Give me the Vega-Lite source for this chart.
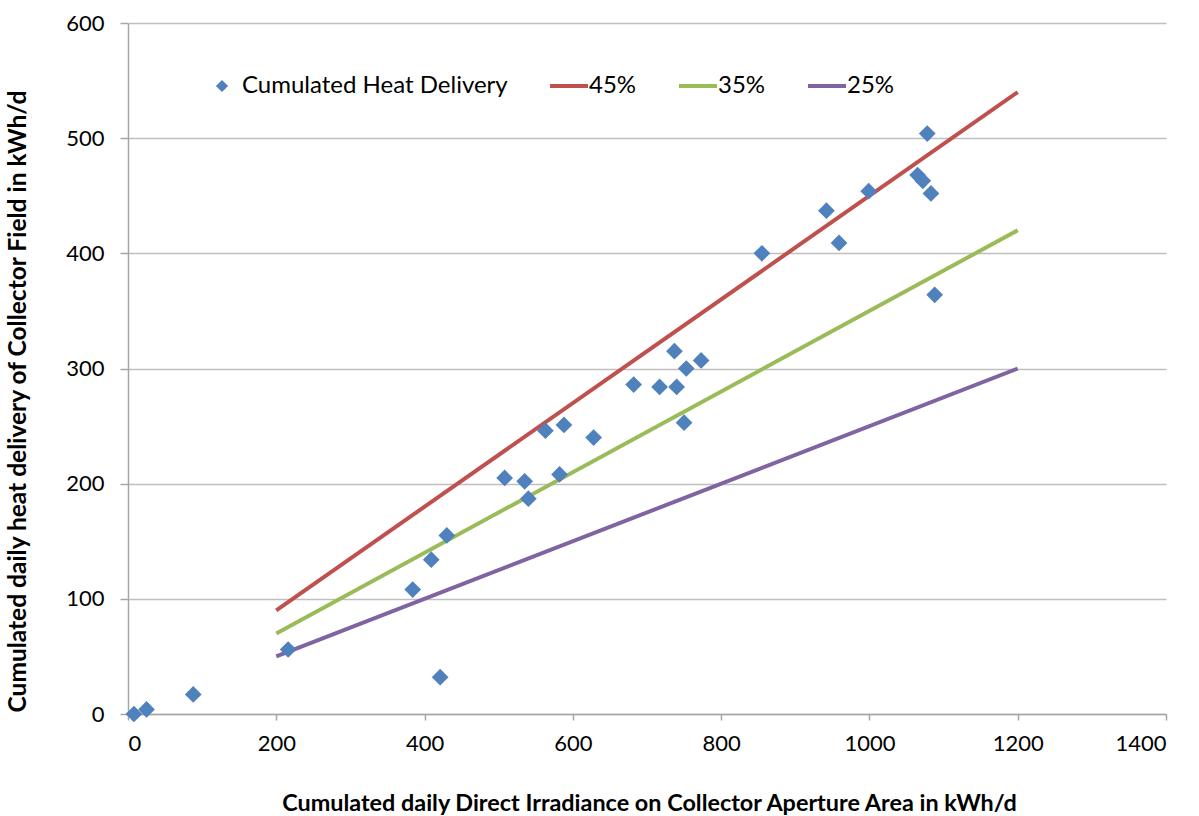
{
  "$schema": "https://vega.github.io/schema/vega-lite/v6.json",
  "width": 1038,
  "height": 691,
  "autosize": {"type": "none"},
  "padding": {"left": 128, "top": 23, "right": 33, "bottom": 102},
  "background": "white",
  "config": {
    "font": "Lato",
    "view": {"stroke": null},
    "axis": {"labelFont": "Lato", "titleFont": "Lato", "labelColor": "#000000", "titleColor": "#000000"}
  },
  "datasets": {
    "points": [
      {"series": "Cumulated Heat Delivery", "irr": 8, "heat": 0},
      {"series": "Cumulated Heat Delivery", "irr": 25, "heat": 4},
      {"series": "Cumulated Heat Delivery", "irr": 88, "heat": 17},
      {"series": "Cumulated Heat Delivery", "irr": 216, "heat": 56},
      {"series": "Cumulated Heat Delivery", "irr": 384, "heat": 108},
      {"series": "Cumulated Heat Delivery", "irr": 409, "heat": 134},
      {"series": "Cumulated Heat Delivery", "irr": 421, "heat": 32},
      {"series": "Cumulated Heat Delivery", "irr": 430, "heat": 155},
      {"series": "Cumulated Heat Delivery", "irr": 508, "heat": 205},
      {"series": "Cumulated Heat Delivery", "irr": 535, "heat": 202},
      {"series": "Cumulated Heat Delivery", "irr": 540, "heat": 187},
      {"series": "Cumulated Heat Delivery", "irr": 563, "heat": 246},
      {"series": "Cumulated Heat Delivery", "irr": 582, "heat": 208},
      {"series": "Cumulated Heat Delivery", "irr": 588, "heat": 251},
      {"series": "Cumulated Heat Delivery", "irr": 628, "heat": 240},
      {"series": "Cumulated Heat Delivery", "irr": 682, "heat": 286},
      {"series": "Cumulated Heat Delivery", "irr": 717, "heat": 284},
      {"series": "Cumulated Heat Delivery", "irr": 737, "heat": 315},
      {"series": "Cumulated Heat Delivery", "irr": 740, "heat": 284},
      {"series": "Cumulated Heat Delivery", "irr": 753, "heat": 300},
      {"series": "Cumulated Heat Delivery", "irr": 750, "heat": 253},
      {"series": "Cumulated Heat Delivery", "irr": 773, "heat": 307},
      {"series": "Cumulated Heat Delivery", "irr": 855, "heat": 400},
      {"series": "Cumulated Heat Delivery", "irr": 942, "heat": 437},
      {"series": "Cumulated Heat Delivery", "irr": 959, "heat": 409},
      {"series": "Cumulated Heat Delivery", "irr": 999, "heat": 454},
      {"series": "Cumulated Heat Delivery", "irr": 1065, "heat": 468},
      {"series": "Cumulated Heat Delivery", "irr": 1072, "heat": 463},
      {"series": "Cumulated Heat Delivery", "irr": 1078, "heat": 504},
      {"series": "Cumulated Heat Delivery", "irr": 1083, "heat": 452},
      {"series": "Cumulated Heat Delivery", "irr": 1088, "heat": 364}
    ],
    "lines": [
      {"series": "45%", "irr": 200, "heat": 90},
      {"series": "45%", "irr": 1200, "heat": 540},
      {"series": "35%", "irr": 200, "heat": 70},
      {"series": "35%", "irr": 1200, "heat": 420},
      {"series": "25%", "irr": 200, "heat": 50},
      {"series": "25%", "irr": 1200, "heat": 300}
    ]
  },
  "encoding": {
    "x": {
      "field": "irr", "type": "quantitative",
      "scale": {"domain": [0, 1400], "nice": false},
      "axis": {
        "title": "Cumulated daily Direct Irradiance on Collector Aperture Area  in kWh/d",
        "values": [0, 200, 400, 600, 800, 1000, 1200, 1400],
        "format": "d",
        "grid": false,
        "domainColor": "#A6A6A6", "domainWidth": 1.5,
        "tickColor": "#A6A6A6", "tickSize": 6, "tickWidth": 1.5,
        "labelFontSize": 22, "labelPadding": 13,
        "titleFontSize": 23.4, "titleFontWeight": "bold",
        "titleX": 521, "titleY": 78, "titleBaseline": "top"
      }
    },
    "y": {
      "field": "heat", "type": "quantitative",
      "scale": {"domain": [0, 600], "nice": false},
      "axis": {
        "title": "Cumulated daily heat delivery of Collector Field  in kWh/d",
        "values": [0, 100, 200, 300, 400, 500, 600],
        "format": "d",
        "grid": true, "gridColor": "#BFBFBF", "gridWidth": 1.5,
        "domainColor": "#A6A6A6", "domainWidth": 1.5,
        "tickColor": "#A6A6A6", "tickSize": 8, "tickWidth": 1.5,
        "labelFontSize": 22, "labelPadding": 16,
        "titleFontSize": 24.5, "titleFontWeight": "bold",
        "titleX": -98, "titleY": 378
      }
    },
    "color": {
      "field": "series", "type": "nominal",
      "scale": {
        "domain": ["Cumulated Heat Delivery", "45%", "35%", "25%"],
        "range": ["#4F81BD", "#C0504D", "#9BBB59", "#8064A2"]
      },
      "legend": {
        "title": null,
        "orient": "none",
        "direction": "horizontal",
        "legendX": 82,
        "legendY": 51,
        "columns": 4,
        "columnPadding": 34,
        "labelFont": "Lato",
        "labelFontSize": 24,
        "labelLimit": 0,
        "labelColor": "#000000",
        "labelOffset": 8,
        "symbolSize": 1444,
        "symbolType": "stroke",
        "symbolStrokeWidth": 4,
        "encode": {
          "symbols": {
            "update": {
              "shape": {"signal": "datum.value === 'Cumulated Heat Delivery' ? 'diamond' : 'stroke'"},
              "size": {"signal": "datum.value === 'Cumulated Heat Delivery' ? 150 : 1444"},
              "strokeWidth": {"signal": "datum.value === 'Cumulated Heat Delivery' ? 0 : 4"},
              "fill": {"scale": "color", "field": "value"},
              "stroke": {"scale": "color", "field": "value"},
              "opacity": {"value": 1}
            }
          }
        }
      }
    }
  },
  "layer": [
    {
      "data": {"name": "lines"},
      "mark": {"type": "line", "strokeWidth": 4},
      "encoding": {"detail": {"field": "series"}}
    },
    {
      "data": {"name": "points"},
      "mark": {"type": "point", "shape": "diamond", "filled": true, "size": 280, "opacity": 1}
    }
  ]
}
